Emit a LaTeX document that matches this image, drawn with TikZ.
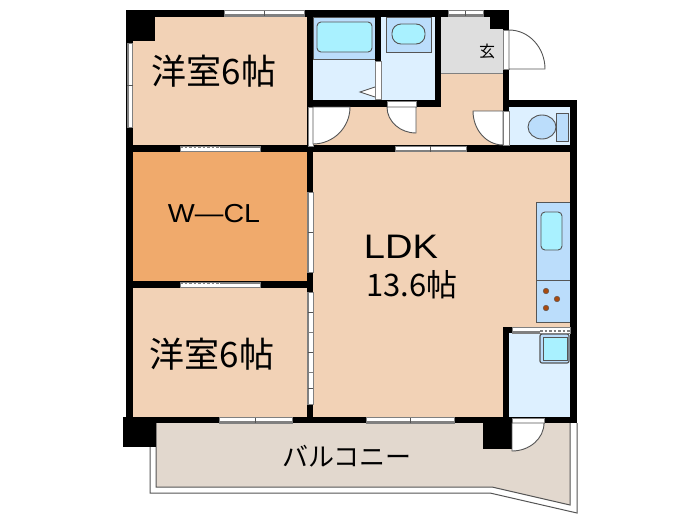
\documentclass[tikz,border=0pt]{standalone}
\usepackage{fontspec}
\setmainfont{Liberation Sans}
\newfontfamily\jpfont{Noto Sans CJK JP}

\definecolor{floorpeach}{HTML}{F2D2B6}
\definecolor{floororange}{HTML}{F0AA6C}
\definecolor{floorbalcony}{HTML}{E2D8CE}
\definecolor{floorentry}{HTML}{DEDEDE}
\definecolor{wetlight}{HTML}{DDF0FF}
\definecolor{wetmid}{HTML}{BBDDFB}
\definecolor{wetcyan}{HTML}{A9F1FF}
\definecolor{linegray}{HTML}{555555}
\definecolor{burner}{HTML}{A84A10}

\tikzset{
	wall/.style={fill=black},
	fixture/.style={draw=linegray,line width=0.9pt},
	doorleaf/.style={draw=linegray,fill=white,line width=0.9pt},
	rail/.style={draw=linegray,line width=1pt},
	winframe/.style={draw=gray,fill=white,line width=0.8pt},
	roomlabel/.style={inner sep=0pt,font=\jpfont\fontsize{35}{35}\selectfont},
}

% sliding window, two panels: x from, x to, y top
\newcommand{\WinH}[3]{
	\draw[winframe] (#1,#3) rectangle (#2,#3+5.5);
	\draw[gray,line width=1.3pt] (#1,#3+4.5) -- (#2,#3+4.5);
	\draw[linegray,line width=0.8pt] ({(#1+#2)/2},#3) -- ({(#1+#2)/2},#3+5.5);
}
% same, upright: y from, y to, x left
\newcommand{\WinV}[3]{
	\draw[winframe] (#3,#1) rectangle (#3+5.5,#2);
	\draw[gray,line width=1.3pt] (#3+1,#1) -- (#3+1,#2);
	\draw[linegray,line width=0.8pt] (#3,{(#1+#2)/2}) -- (#3+5.5,{(#1+#2)/2});
}
% closet door, dotted panel then plain panel
\newcommand{\SlideDoor}[3]{
	\draw[winframe] (#1,#3) rectangle (#2,#3+5.5);
	\draw[gray,line width=1.6pt,dash pattern=on 2.5pt off 2pt] (#1,#3+1.5) -- ({(#1+#2)/2},#3+1.5);
	\draw[gray,line width=1.6pt] ({(#1+#2)/2},#3+1) -- (#2,#3+1);
}

\begin{document}
\begin{tikzpicture}[x=1pt,y=-1pt]
	\useasboundingbox (0,0) rectangle (700,525);

	% Floors
	\fill[floorbalcony] (156,423) -- (570,423) -- (570,505) -- (492,487) -- (156,487) -- cycle;
	\fill[floorpeach] (133,17) rectangle (307,145);
	\fill[floororange] (133,152) rectangle (307,281);
	\fill[floorpeach] (133,288) rectangle (307,417);
	\fill[floorpeach] (313,152) rectangle (570,417);
	\fill[floorpeach] (313,107) rectangle (503,145);
	\fill[floorpeach] (441,73) rectangle (503,107);
	\fill[floorentry] (441,17) rectangle (503,73);
	\draw[gray,line width=0.8pt] (441,73) -- (503,73);
	\fill[wetlight] (313,17) rectangle (375,100);
	\fill[wetlight] (381,17) rectangle (435,100);
	\fill[wetlight] (509,107) rectangle (570,145);
	\fill[wetlight] (509,333) rectangle (570,417);

	% Balcony rails
	\draw[rail] (156,423) -- (156,487) -- (492,487) -- (570,505) -- (570,423);
	\draw[rail] (150,447) -- (150,493) -- (490,493) -- (577,513) -- (577,423);

	% Bath and washroom fittings
	\draw[fixture,fill=wetmid] (313,17) rectangle (375,59);
	\draw[fixture,fill=wetcyan,rounded corners=4pt] (317,22) rectangle (372,52);
	\draw[fixture,fill=wetmid] (386,17) rectangle (431,52);
	\draw[fixture,fill=wetcyan,rounded corners=9pt] (392,24) rectangle (425,44);
	\draw[fixture,fill=white] (375,87) -- (360,92) -- (375,97);

	% Toilet
	\draw[fixture,fill=wetmid] (556,113) rectangle (568,141);
	\draw[fixture,fill=wetmid] (542,127) ellipse [x radius=14,y radius=12];

	% Kitchen
	\draw[fixture,fill=wetmid] (536,202) rectangle (570,322);
	\draw[fixture] (536,280) -- (570,280);
	\draw[fixture,fill=wetcyan,rounded corners=4pt] (541,212) rectangle (562,250);
	\foreach \bx/\by in {546/291,557/299,546/308}
		\draw[linegray,fill=burner] (\bx,\by) circle [radius=2.8];
	\draw[linegray,line width=1.2pt,fill=wetmid,rounded corners=2pt] (540,334) rectangle (569,363);
	\draw[fixture,fill=wetcyan] (543,337) rectangle (567,360);

	% Walls
	\foreach \xa/\ya/\xb/\yb in {
		126/10/509/17, 126/10/133/423, 126/10/155/41, 307/10/313/423,
		126/145/577/152, 126/281/313/288, 126/417/577/423,
		123/417/156/447, 483/417/512/449,
		570/100/577/423, 503/100/577/107, 503/10/509/152, 490/10/509/29,
		313/100/441/107, 375/10/381/100, 435/10/441/107,
		503/327/509/423, 503/327/512/333}
		\fill[wall] (\xa,\ya) rectangle (\xb,\yb);

	% Windows
	\WinH{224}{304}{10.5}
	\WinH{448}{483}{10.5}
	\WinH{395}{466}{146}
	\WinH{219}{292}{417.5}
	\WinH{366}{454}{417.5}
	\WinV{43}{127}{127}
	\WinV{192}{272}{307.5}
	\WinV{292}{332}{307.5}
	\WinV{332}{372}{307.5}
	\WinV{372}{404}{307.5}

	% Sliding doors
	\SlideDoor{180}{260}{146}
	\SlideDoor{180}{260}{282}
	\draw[winframe] (512,327.5) rectangle (570,333);
	\draw[gray,line width=1.6pt] (512,332) -- (540,332);
	\draw[gray,line width=1.6pt,dash pattern=on 2.5pt off 2pt] (540,331) -- (570,331);
	\draw[winframe] (375.5,61) rectangle (381,99);

	% Swing doors
	\draw[winframe] (308,107) rectangle (313,146);
	\draw[doorleaf] (313,107) -- (350,107) arc [start angle=0,end angle=90,x radius=37,y radius=37] -- cycle;
	\draw[winframe] (387,101) rectangle (416,107);
	\draw[doorleaf] (416,107) -- (387,107) arc [start angle=180,end angle=90,x radius=29,y radius=26] -- cycle;
	\draw[winframe] (503.5,111) rectangle (509,145);
	\draw[doorleaf] (503,111) -- (473,111) arc [start angle=180,end angle=90,x radius=30,y radius=34] -- cycle;
	\draw[winframe] (503.5,30) rectangle (509,69);
	\draw[doorleaf] (509,69) -- (509,30) arc [start angle=-90,end angle=0,x radius=36,y radius=39] -- cycle;
	\draw[winframe] (512,418) rectangle (544,423);
	\draw[doorleaf] (512,423) -- (544,423) arc [start angle=0,end angle=90,x radius=32,y radius=28] -- cycle;

	% Labels
	\node[roomlabel] (bedroomN) at (214,71) {洋室6帖};
	\node[roomlabel] (bedroomS) at (212,354) {洋室6帖};
	\node[inner sep=0pt,font=\fontsize{26}{26}\selectfont] (closet) at (214,214) {\scalebox{1.1}[1]{W—CL}};
	\node[inner sep=0pt,font=\fontsize{34}{34}\selectfont] (ldkname) at (401,247) {\scalebox{1.12}[1]{LDK}};
	\node[roomlabel,font=\jpfont\fontsize{31}{31}\selectfont] (ldksize) at (412,285) {13.6帖};
	\node[inner sep=0pt,font=\jpfont\fontsize{26}{26}\selectfont] (balcony) at (347,456) {バルコニー};
	\node[inner sep=0pt,font=\jpfont\fontsize{16}{16}\selectfont] (entry) at (487,51) {玄};
\end{tikzpicture}
\end{document}
